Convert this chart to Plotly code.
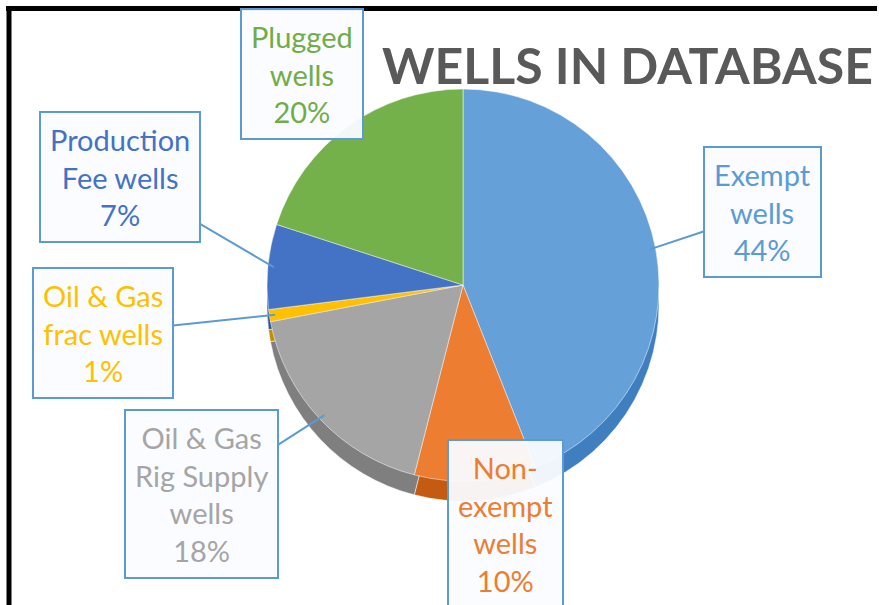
import math
import plotly.graph_objects as go

labels = ["Exempt wells", "Non-exempt wells", "Oil & Gas Rig Supply wells",
          "Oil & Gas frac wells", "Production Fee wells", "Plugged wells"]
values = [44, 10, 18, 1, 7, 20]
callout_text = ["Exempt<br>wells", "Non-<br>exempt<br>wells", "Oil & Gas<br>Rig Supply<br>wells",
                "Oil & Gas<br>frac wells", "Production<br>Fee wells", "Plugged<br>wells"]
colors = ["#65A0D9", "#ED7D31", "#A5A5A5", "#FFC000", "#4472C4", "#75B14B"]
side_colors = ["#3F7FBF", "#C55A11", "#7F7F7F", "#BF9000", "#2F5597", "#548235"]
text_colors = ["#5B9BD5", "#ED7D31", "#A5A5A5", "#FFC000", "#4472C4", "#70AD47"]
# callout box centres (pixels)
box_pos = [(762, 212), (505, 524), (201, 494), (103, 333), (120, 177), (302, 74)]

W, H = 879, 605
cx, cy, R = 463, 285, 196
depth = 20

fig = go.Figure()
for off, cols in [(depth, side_colors), (0, colors)]:
    c_y = cy + off
    fig.add_trace(go.Pie(
        labels=labels, values=values, sort=False, direction="clockwise", rotation=0,
        marker=dict(colors=cols, line=dict(color="rgba(255,255,255,0.5)", width=1)),
        textinfo="none", hoverinfo="label+percent", showlegend=False,
        domain=dict(x=[(cx - R) / W, (cx + R) / W],
                    y=[1 - (c_y + R) / H, 1 - (c_y - R) / H]),
    ))

total = sum(values)
cum = 0
annotations = []
for i, v in enumerate(values):
    mid = (cum + v / 2) / total * 2 * math.pi
    cum += v
    tx = cx + 0.97 * R * math.sin(mid)
    ty = cy - 0.97 * R * math.cos(mid)
    bx, by = box_pos[i]
    pct = round(100 * v / total)
    annotations.append(dict(
        x=tx / W, y=1 - ty / H, xref="paper", yref="paper",
        ax=bx - tx, ay=by - ty, axref="pixel", ayref="pixel",
        text=f"{callout_text[i]}<br>{pct}%",
        showarrow=True, arrowhead=0, arrowwidth=2, arrowcolor="#5B9BD5",
        font=dict(family="Lato, Open Sans, sans-serif", size=29, color=text_colors[i]),
        bordercolor="#5B9BD5", borderwidth=2, borderpad=9,
        bgcolor="rgba(250,252,255,0.95)", align="center",
    ))

annotations.append(dict(
    x=627 / W, y=1 - 65 / H, xref="paper", yref="paper", showarrow=False,
    xanchor="center", yanchor="middle",
    text="<b>WELLS IN DATABASE</b>",
    font=dict(family="Lato, Open Sans, sans-serif", size=50, color="#595959"),
))

fig.update_layout(
    width=W, height=H, margin=dict(l=0, r=0, t=0, b=0),
    paper_bgcolor="white", plot_bgcolor="white",
    annotations=annotations,
    shapes=[
        dict(type="line", xref="paper", yref="paper", x0=6 / W, x1=877 / W,
             y0=1 - 8.5 / H, y1=1 - 8.5 / H, line=dict(color="black", width=5)),
        dict(type="line", xref="paper", yref="paper", x0=9 / W, x1=9 / W,
             y0=1 - 6 / H, y1=0, line=dict(color="black", width=5)),
    ],
)

fig.write_html("out.html")
